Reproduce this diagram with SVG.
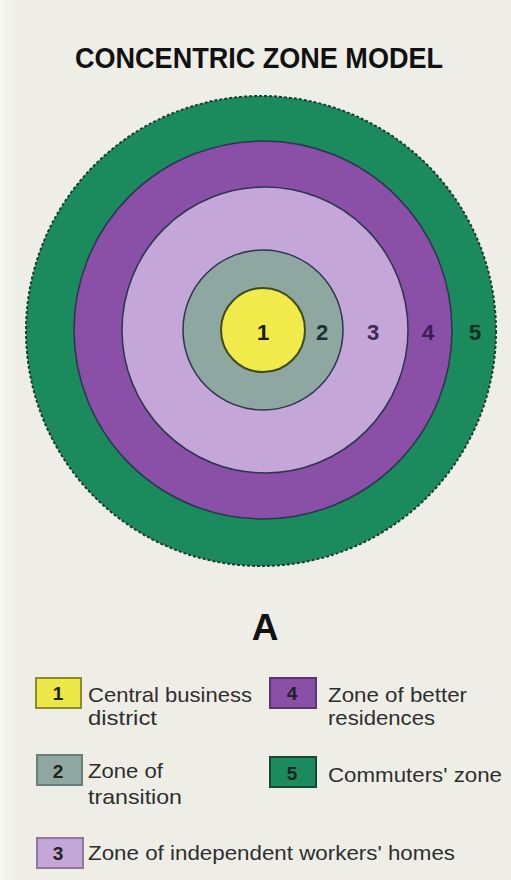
<svg xmlns="http://www.w3.org/2000/svg" width="511" height="880" viewBox="0 0 511 880">
<defs>
<linearGradient id="edge" x1="0" y1="0" x2="1" y2="0"><stop offset="0" stop-color="#f8f8f4"/><stop offset="1" stop-color="#eeeee7"/></linearGradient>
</defs>
<style>
.ring{stroke:#2b3550;stroke-width:1.5}
.num{font-family:"Liberation Sans",Arial,sans-serif;font-weight:bold;font-size:22px;text-anchor:middle}
.lg{font-family:"Liberation Sans",Arial,sans-serif;font-size:21px;fill:#2e2e2e}
.bn{font-family:"Liberation Sans",Arial,sans-serif;font-weight:bold;font-size:19px;text-anchor:middle;fill:#222}
.box{stroke-width:2}
</style>
<rect width="511" height="880" fill="#eeeee7"/>
<rect width="16" height="880" fill="url(#edge)"/>
<text x="259" y="68" font-family="'Liberation Sans',Arial,sans-serif" font-weight="bold" font-size="29" text-anchor="middle" fill="#111" textLength="368" lengthAdjust="spacingAndGlyphs">CONCENTRIC ZONE MODEL</text>
<g id="zone5"><circle cx="261" cy="331" r="235" fill="#1b8a5c" stroke="#1a3d33" stroke-width="2" stroke-dasharray="3 2"/></g>
<g id="zone4"><circle class="ring" cx="263" cy="330" r="189" fill="#8a4fa6"/></g>
<g id="zone3"><circle class="ring" cx="265" cy="330" r="143" fill="#c4a7d8"/></g>
<g id="zone2"><circle class="ring" cx="263" cy="330" r="80" fill="#8ea8a1"/></g>
<g id="zone1"><circle cx="263" cy="330" r="42" fill="#f0ea4a" stroke="#3e4a20" stroke-width="2"/></g>
<g id="labels">
<text class="num" x="263" y="340" fill="#1a1a10">1</text>
<text class="num" x="322" y="340" fill="#1b3030">2</text>
<text class="num" x="373" y="340" fill="#3b2a50">3</text>
<text class="num" x="428" y="340" fill="#3a1d5a">4</text>
<text class="num" x="475" y="340" fill="#0f3025">5</text>
</g>
<text x="265" y="640" font-family="'Liberation Sans',Arial,sans-serif" font-weight="bold" font-size="37" text-anchor="middle" fill="#111">A</text>
<g id="legend1"><rect class="box" x="36" y="678" width="45" height="30" fill="#ece848" stroke="#8f8a2a"/><text class="bn" x="58" y="700">1</text><text class="lg" x="88" y="702" textLength="164" lengthAdjust="spacingAndGlyphs">Central business</text><text class="lg" x="88" y="725" textLength="69" lengthAdjust="spacingAndGlyphs">district</text></g>
<g id="legend4"><rect class="box" x="270" y="678" width="46" height="30" fill="#8a4fa6" stroke="#5a3570"/><text class="bn" x="292" y="700">4</text><text class="lg" x="328" y="702" textLength="139" lengthAdjust="spacingAndGlyphs">Zone of better</text><text class="lg" x="328" y="725" textLength="107" lengthAdjust="spacingAndGlyphs">residences</text></g>
<g id="legend2"><rect class="box" x="37" y="755" width="45" height="30" fill="#8ea8a1" stroke="#66807a"/><text class="bn" x="58" y="778">2</text><text class="lg" x="88" y="778" textLength="75" lengthAdjust="spacingAndGlyphs">Zone of</text><text class="lg" x="88" y="804" textLength="94" lengthAdjust="spacingAndGlyphs">transition</text></g>
<g id="legend5"><rect class="box" x="270" y="757" width="46" height="30" fill="#1b8a5c" stroke="#114a35"/><text class="bn" x="292" y="780">5</text><text class="lg" x="328" y="782" textLength="174" lengthAdjust="spacingAndGlyphs">Commuters' zone</text></g>
<g id="legend3"><rect class="box" x="37" y="838" width="46" height="30" fill="#c4a7d8" stroke="#8f7a9e"/><text class="bn" x="58" y="860">3</text><text class="lg" x="88" y="860" textLength="367" lengthAdjust="spacingAndGlyphs">Zone of independent workers' homes</text></g>
</svg>
